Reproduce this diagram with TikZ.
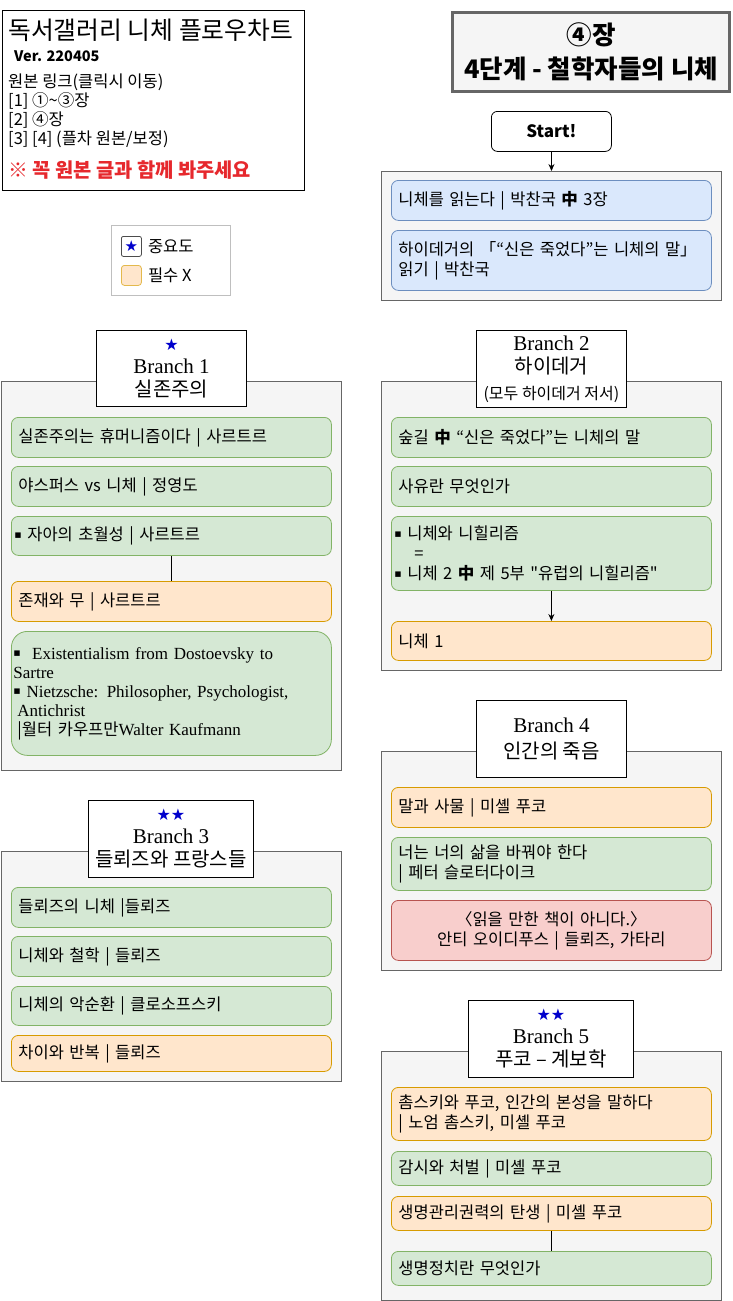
\documentclass[tikz,border=0pt]{standalone}
\usepackage{fontspec}
\setmainfont{Liberation Serif}
\newfontfamily\kr{Noto Sans CJK KR}
\newfontfamily\sym{DejaVu Sans}
\usetikzlibrary{arrows.meta}

\definecolor{bluefill}{HTML}{DAE8FC}
\definecolor{blueline}{HTML}{6C8EBF}
\definecolor{grnfill}{HTML}{D5E8D4}
\definecolor{grnline}{HTML}{82B366}
\definecolor{orgfill}{HTML}{FFE6CC}
\definecolor{orgline}{HTML}{D79B00}
\definecolor{redfill}{HTML}{F8CECC}
\definecolor{redline}{HTML}{B85450}
\definecolor{grpfill}{HTML}{F5F5F5}
\definecolor{grpline}{HTML}{666666}
\definecolor{stb}{HTML}{0000CC}
\definecolor{warnred}{HTML}{E6282D}

\newcommand{\sqb}{\raisebox{2.5pt}{\sym\fontsize{11}{11}\selectfont ▪}}
\newcommand{\starmark}[1]{{\sym\color{stb}\fontsize{16}{16}\selectfont #1}}

\tikzset{
  grp/.style={rectangle, draw=grpline, fill=grpfill, line width=1pt, anchor=north west, inner sep=0pt},
  item/.style={rectangle, rounded corners=7pt, line width=0.8pt, anchor=north west,
    minimum width=320pt, text width=306pt, inner xsep=7pt, inner ysep=2pt, align=left,
    font=\kr\fontsize{16.5}{20}\selectfont},
  blueitem/.style={item, fill=bluefill, draw=blueline},
  greenitem/.style={item, fill=grnfill, draw=grnline},
  orangeitem/.style={item, fill=orgfill, draw=orgline},
  reditem/.style={item, fill=redfill, draw=redline},
  bulleted/.style={inner xsep=3pt, text width=314pt},
  hdr/.style={rectangle, draw=black, fill=white, line width=0.9pt, anchor=north west,
    align=center, inner sep=0pt, font=\fontsize{21}{23}\selectfont},
  plain/.style={anchor=base west, inner sep=0pt, font=\kr\fontsize{16.5}{19}\selectfont},
  link/.style={draw=black, line width=0.8pt},
  arrowlink/.style={link, -{Stealth[length=7pt, width=6pt]}},
}

\begin{document}
\begin{tikzpicture}[x=1pt, y=-1pt]
  \useasboundingbox (0,0) rectangle (732,1301);

  % Title box
  \node[rectangle, draw=black, line width=1pt, anchor=north west, minimum width=302pt,
        minimum height=180pt, inner sep=0pt] (titlebox) at (2,10) {};
  \node[plain, font=\kr\fontsize{24.8}{28}\selectfont] (title) at (8,39) {독서갤러리 니체 플로우차트};
  \node[plain, font=\kr\bfseries\fontsize{14.5}{17}\selectfont] (version) at (14,61) {Ver. 220405};
  \node[plain] (links) at (8,87) {원본 링크(클릭시 이동)};
  \node[plain] (link1) at (8,106) {[1] ①\textasciitilde③장};
  \node[plain] (link2) at (8,125) {[2] ④장};
  \node[plain] (link3) at (8,144) {[3] [4] (플차 원본/보정)};
  \node[plain, text=warnred, font=\kr\bfseries\fontsize{19.8}{23}\selectfont] (warn) at (8,177) {※ 꼭 원본 글과 함께 봐주세요};

  % Chapter box
  \node[rectangle, draw=grpline, fill=grpfill, line width=3pt, anchor=north west,
        minimum width=277pt, minimum height=79pt, align=center, inner sep=0pt,
        font=\kr\bfseries\fontsize{25.5}{34}\selectfont] (chapter) at (451,11)
        {④장\\4단계 - 철학자들의 니체};

  % Legend
  \node[rectangle, draw=black!25, fill=white, line width=0.8pt, anchor=north west,
        minimum width=119pt, minimum height=70pt, inner sep=0pt] (legend) at (111,225) {};
  \node[rectangle, rounded corners=2pt, draw=black!70, fill=white, line width=0.8pt,
        anchor=north west, minimum size=20pt, inner sep=0pt] (keystar) at (121,236)
        {{\sym\color{stb}\fontsize{15}{15}\selectfont ★}};
  \node[rectangle, rounded corners=3pt, draw=orgline!70, fill=orgfill, line width=0.8pt,
        anchor=north west, minimum size=20pt, inner sep=0pt] (keyorange) at (121,265) {};
  \node[anchor=west, inner sep=0pt, font=\kr\fontsize{16.5}{19}\selectfont] (keystartext)
        at ([xshift=6pt]keystar.east) {중요도};
  \node[anchor=west, inner sep=0pt, font=\kr\fontsize{16.5}{19}\selectfont] (keyorangetext)
        at ([xshift=6pt]keyorange.east) {필수 X};

  % Start
  \node[rectangle, rounded corners=6pt, draw=black, fill=white, line width=0.8pt,
        anchor=north west, minimum width=120pt, minimum height=40pt, inner sep=0pt,
        font=\kr\bfseries\fontsize{17}{19}\selectfont] (start) at (491,111) {Start!};
  \node[grp, minimum width=340pt, minimum height=129pt] (grp0) at (381,171) {};
  \node[blueitem, minimum height=40pt] (st1) at (391,180) {니체를 읽는다 | 박찬국 \textbf{中} 3장};
  \node[blueitem, minimum height=60pt] (st2) at (391,230)
        {하이데거의 「“신은 죽었다”는 니체의 말」\\읽기 | 박찬국};
  \draw[arrowlink] (start.south) -- (grp0.north);

  % Branch 1
  \node[grp, minimum width=340pt, minimum height=389pt] (grp1) at (1,381) {};
  \node[hdr, minimum width=150pt, minimum height=76pt] (hd1) at (96,330)
        {\starmark{★}\\Branch 1\\{\kr\fontsize{20}{23}\selectfont 실존주의}};
  \node[greenitem, minimum height=40pt] (ba1) at (11,417) {실존주의는 휴머니즘이다 | 사르트르};
  \node[greenitem, minimum height=40pt] (ba2) at (11,466) {야스퍼스 vs 니체 | 정영도};
  \node[greenitem, bulleted, minimum height=39pt] (ba3) at (11,516) {\sqb{} 자아의 초월성 | 사르트르};
  \node[orangeitem, minimum height=40pt] (ba4) at (11,581) {존재와 무 | 사르트르};
  \node[greenitem, rounded corners=16pt, inner xsep=2pt, text width=316pt, minimum height=124pt,
        font=\fontsize{17}{19}\selectfont] (ba5) at (11,631)
        {\sqb{}\ \ Existentialism from Dostoevsky to\\Sartre\\\sqb{} Nietzsche: Philosopher, Psychologist,\\
         \hspace*{4pt}Antichrist\\\hspace*{4pt}{\kr\fontsize{16.5}{19}\selectfont |월터 카우프만}Walter Kaufmann};
  \draw[link] (ba3) -- (ba4);

  % Branch 2
  \node[grp, minimum width=340pt, minimum height=289pt] (grp2) at (381,381) {};
  \node[hdr, minimum width=150pt, minimum height=77pt] (hd2) at (476,330)
        {Branch 2\\{\kr\fontsize{20}{23}\selectfont 하이데거}\\[3pt]{\kr\fontsize{16}{17}\selectfont (모두 하이데거 저서)}};
  \node[greenitem, minimum height=40pt] (bb1) at (391,417) {숲길 \textbf{中} “신은 죽었다”는 니체의 말};
  \node[greenitem, minimum height=40pt] (bb2) at (391,466) {사유란 무엇인가};
  \node[greenitem, bulleted, minimum height=74pt] (bb3) at (391,516)
        {\sqb{} 니체와 니힐리즘\\\hspace*{20pt}=\\\sqb{} 니체 2 \textbf{中} 제 5부 "유럽의 니힐리즘"};
  \node[orangeitem, minimum height=39pt] (bb4) at (391,621) {니체 1};
  \draw[arrowlink] (bb3) -- (bb4);

  % Branch 3
  \node[grp, minimum width=340pt, minimum height=230pt] (grp3) at (1,851) {};
  \node[hdr, minimum width=165pt, minimum height=77pt] (hd3) at (88,800)
        {\starmark{★★}\\Branch 3\\{\kr\fontsize{20}{23}\selectfont 들뢰즈와 프랑스들}};
  \node[greenitem, minimum height=40pt] (bc1) at (11,887) {들뢰즈의 니체 |들뢰즈};
  \node[greenitem, minimum height=40pt] (bc2) at (11,936) {니체와 철학 | 들뢰즈};
  \node[greenitem, minimum height=39pt] (bc3) at (11,986) {니체의 악순환 | 클로소프스키};
  \node[orangeitem, minimum height=36pt] (bc4) at (11,1035) {차이와 반복 | 들뢰즈};

  % Branch 4
  \node[grp, minimum width=340pt, minimum height=219pt] (grp4) at (381,751) {};
  \node[hdr, minimum width=150pt, minimum height=77pt, font=\fontsize{21}{26}\selectfont] (hd4) at (476,700)
        {Branch 4\\{\kr\fontsize{20}{23}\selectfont 인간의 죽음}};
  \node[orangeitem, minimum height=40pt] (bd1) at (391,787) {말과 사물 | 미셸 푸코};
  \node[greenitem, minimum height=53pt] (bd2) at (391,837) {너는 너의 삶을 바꿔야 한다\\| 페터 슬로터다이크};
  \node[reditem, align=center, minimum height=60pt] (bd3) at (391,900)
        {〈읽을 만한 책이 아니다.〉\\안티 오이디푸스 | 들뢰즈, 가타리};

  % Branch 5
  \node[grp, minimum width=340pt, minimum height=249pt] (grp5) at (381,1051) {};
  \node[hdr, minimum width=165pt, minimum height=77pt] (hd5) at (468,1000)
        {\starmark{★★}\\Branch 5\\{\kr\fontsize{20}{23}\selectfont 푸코 – 계보학}};
  \node[orangeitem, minimum height=53pt] (be1) at (391,1087)
        {촘스키와 푸코, 인간의 본성을 말하다\\| 노엄 촘스키, 미셸 푸코};
  \node[greenitem, minimum height=34pt] (be2) at (391,1151) {감시와 처벌 | 미셸 푸코};
  \node[orangeitem, minimum height=34pt] (be3) at (391,1196) {생명관리권력의 탄생 | 미셸 푸코};
  \node[greenitem, minimum height=34pt] (be4) at (391,1251) {생명정치란 무엇인가};
  \draw[link] (be3) -- (be4);
\end{tikzpicture}
\end{document}
